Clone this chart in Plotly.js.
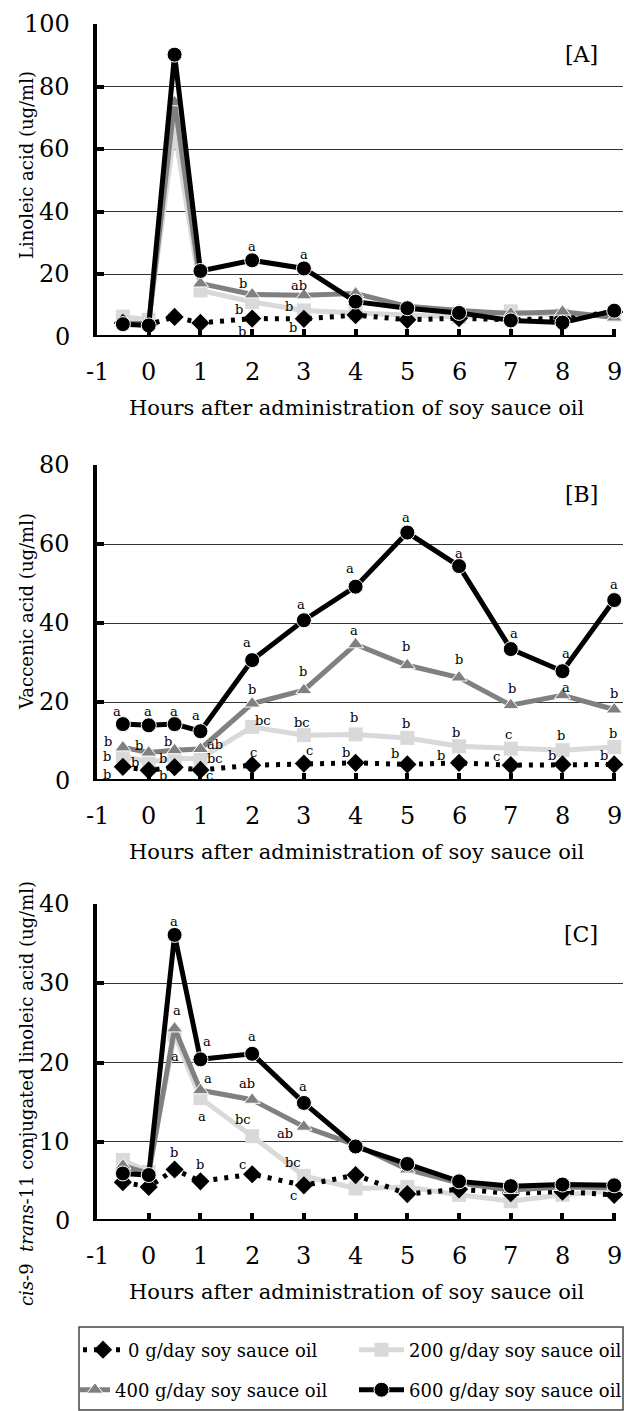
<!DOCTYPE html>
<html>
<head>
<meta charset="utf-8">
<script src="https://cdn.plot.ly/plotly-3.0.1.min.js"></script>
<style>html,body{margin:0;padding:0;background:#fff;}#chart{width:624px;height:1411px;}</style>
</head>
<body>
<div id="chart"></div>
<script>
// ---------- data ----------
const hours = [-0.5, 0, 0.5, 1, 2, 3, 4, 5, 6, 7, 8, 9];
const xTicks = [-1, 0, 1, 2, 3, 4, 5, 6, 7, 8, 9];

const seriesNames = ['0 g/day soy sauce oil', '200 g/day soy sauce oil', '400 g/day soy sauce oil', '600 g/day soy sauce oil'];

// Panel A: Linoleic acid
const A_0   = [4.5, 4.0, 6.4, 4.5, 5.9, 5.8, 7.0, 5.5, 6.0, 5.5, 6.0, 8.0];
const A_200 = [6.5, 5.5, 66, 14.9, 11.2, 8.5, 7.7, 6.9, 6.4, 8.2, 6.9, 7.0];
const A_400 = [4.5, 4.2, 75, 17.1, 13.6, 13.3, 13.9, 9.8, 8.5, 7.5, 8.1, 6.2];
const A_600 = [4.1, 3.7, 90.2, 21.1, 24.5, 21.9, 11.3, 9.2, 7.7, 5.3, 4.6, 8.4];

// Panel B: Vaccenic acid
const B_0   = [3.6, 2.7, 3.5, 2.8, 4.0, 4.4, 4.6, 4.2, 4.6, 4.0, 4.2, 4.2];
const B_200 = [6.3, 4.8, 5.7, 5.7, 13.7, 11.6, 11.8, 10.9, 8.8, 8.2, 7.8, 8.6];
const B_400 = [8.5, 7.2, 7.8, 8.1, 19.6, 23.0, 34.6, 29.3, 26.2, 19.2, 21.7, 18.1];
const B_600 = [14.4, 14.1, 14.4, 12.6, 30.6, 40.7, 49.2, 62.9, 54.4, 33.4, 27.8, 45.8];

// Panel C: cis-9 trans-11 CLA
const C_0   = [4.9, 4.3, 6.5, 5.0, 5.9, 4.5, 5.8, 3.4, 4.0, 3.5, 3.7, 3.3];
const C_200 = [7.7, 6.2, 23.5, 15.5, 10.7, 5.7, 4.1, 4.3, 3.3, 2.5, 3.3, 3.8];
const C_400 = [7.0, 6.0, 24.3, 16.5, 15.3, 11.9, 9.6, 6.5, 4.8, 3.9, 4.3, 4.2];
const C_600 = [6.0, 5.8, 36.1, 20.4, 21.1, 14.9, 9.4, 7.2, 5.0, 4.4, 4.6, 4.5];

const panelTitles = ['Linoleic acid (ug/ml)', 'Vaccenic acid (ug/ml)', '<i>cis</i>-9  <i>trans</i>-11 conjugated linoleic acid (ug/ml)'];
const panelTags = ['[A]', '[B]', '[C]'];
const yMax = [100, 80, 40];
const yStep = [20, 20, 10];
const xTitle = 'Hours after administration of soy sauce oil';

// significance letters: [hour, value, letter]
const lettersA = [[2, 29, 'a'], [3, 26.5, 'a'], [1.82, 17, 'b'], [2.9, 16.6, 'ab'], [1.75, 8.9, 'b'], [2.72, 9.6, 'b'], [1.8, 1.9, 'b'], [2.78, 3.0, 'b']];
const lettersB = [
  [-0.62, 17.7, 'a'], [-0.02, 17.7, 'a'], [0.49, 17.5, 'a'], [0.92, 16.7, 'a'],
  [1.9, 35.0, 'a'], [2.94, 44.8, 'a'], [3.9, 53.8, 'a'], [4.97, 66.7, 'a'], [6.0, 57.6, 'a'], [7.07, 37.3, 'a'], [8.07, 32.4, 'a'], [9.0, 49.8, 'a'],
  [-0.78, 9.9, 'b'], [-0.18, 9.0, 'b'], [0.37, 9.9, 'b'], [1.28, 9.3, 'ab'],
  [1.99, 23.1, 'b'], [2.98, 27.6, 'b'], [3.97, 38.2, 'a'], [4.98, 34.0, 'b'], [6.0, 30.7, 'b'], [7.03, 23.4, 'b'], [8.07, 23.6, 'a'], [9.0, 22.1, 'b'],
  [-0.8, 6.1, 'b'], [-0.26, 4.8, 'b'], [0.28, 5.6, 'b'], [1.28, 5.6, 'bc'],
  [-0.8, 1.7, 'b'], [-0.27, -0.5, 'b'], [0.28, 1.5, 'b'], [1.17, 1.4, 'c'],
  [2.02, 7.3, 'c'], [3.1, 7.8, 'c'], [3.81, 7.3, 'b'], [4.77, 6.9, 'b'], [5.66, 6.5, 'b'], [6.72, 6.1, 'c'], [7.8, 6.5, 'b'], [8.8, 6.5, 'b'],
  [2.21, 15.4, 'bc'], [2.96, 14.9, 'bc'], [3.97, 16.2, 'b'], [4.97, 14.5, 'b'], [5.95, 12.4, 'b'], [6.95, 11.8, 'c'], [7.97, 11.6, 'b'], [8.97, 12.0, 'b']
];
const lettersC = [
  [0.48, 37.8, 'a'], [1.13, 22.7, 'a'], [1.99, 23.3, 'a'], [2.98, 17.0, 'a'],
  [0.55, 26.5, 'a'], [1.15, 18.0, 'a'], [1.9, 17.3, 'ab'], [2.63, 11.1, 'ab'],
  [0.51, 20.8, 'a'], [1.03, 13.2, 'a'], [1.82, 12.8, 'bc'], [2.79, 7.4, 'bc'],
  [0.48, 8.6, 'b'], [0.99, 7.1, 'b'], [1.81, 7.1, 'c'], [2.79, 3.2, 'c']
];

// ---------- layout helpers ----------
const W = 624, H = 1411;
const FONT = 'DejaVu Serif';
const px = v => v / W;
const py = v => 1 - v / H;
const plotLeft = 97, plotRight = 623;
const panelPix = [[24, 337], [465, 781], [904, 1221]]; // top, bottom

const panelData = [[A_0, A_200, A_400, A_600], [B_0, B_200, B_400, B_600], [C_0, C_200, C_400, C_600]];
const panelLetters = [lettersA, lettersB, lettersC];

const styles = [
  {line: {color: '#000000', width: 5, dash: '4px,7px'}, marker: {symbol: 'diamond', size: 14, color: '#000000', line: {width: 0}}},
  {line: {color: '#d9d9d9', width: 5}, marker: {symbol: 'square', size: 14, color: '#d9d9d9', line: {width: 0}}},
  {line: {color: '#808080', width: 5}, marker: {symbol: 'triangle-up', size: 14, color: '#808080', line: {width: 1, color: '#ffffff'}}},
  {line: {color: '#000000', width: 5}, marker: {symbol: 'circle', size: 15, color: '#000000', line: {width: 1, color: '#ffffff'}}}
];
const drawOrder = [1, 0, 2, 3];
const legendIds = ['legend', 'legend2', 'legend3', 'legend4'];

const traces = [];
const layout = {
  width: W, height: H,
  margin: {l: 0, r: 0, t: 0, b: 0, autoexpand: false},
  paper_bgcolor: '#ffffff', plot_bgcolor: '#ffffff',
  font: {family: FONT, color: '#000000', size: 18},
  showlegend: true,
  annotations: [], shapes: []
};

for (let p = 0; p < 3; p++) {
  const sfx = p === 0 ? '' : String(p + 1);
  const xa = 'x' + sfx, ya = 'y' + sfx;
  for (const s of drawOrder) {
    traces.push({
      type: 'scatter', mode: 'lines+markers',
      x: hours, y: panelData[p][s],
      xaxis: xa, yaxis: ya,
      name: seriesNames[s],
      line: styles[s].line, marker: styles[s].marker,
      cliponaxis: false,
      showlegend: p === 2,
      legend: legendIds[s],
      hoverinfo: 'skip'
    });
  }
  const [top, bot] = panelPix[p];
  layout['xaxis' + sfx] = {
    domain: [px(plotLeft), px(plotRight)],
    anchor: ya, range: [-1, 9.17],
    tickmode: 'array', tickvals: xTicks,
    ticks: 'inside', ticklen: 8, tickwidth: 4, tickcolor: '#000',
    showticklabels: false,
    showline: false, showgrid: false, zeroline: false,
    fixedrange: true
  };
  const yt = [];
  for (let v = 0; v <= yMax[p]; v += yStep[p]) yt.push(v);
  layout['yaxis' + sfx] = {
    domain: [py(bot), py(top)],
    anchor: xa, range: [0, yMax[p]],
    tickmode: 'array', tickvals: yt,
    ticks: 'inside', ticklen: 7, tickwidth: 4, tickcolor: '#000',
    showticklabels: false,
    showline: true, linewidth: 4, linecolor: '#000',
    showgrid: true, gridcolor: '#333333', gridwidth: 1,
    zeroline: false,
    fixedrange: true
  };
  layout.shapes.push({type: 'line', xref: xa, yref: ya, x0: -1, x1: 9, y0: 0, y1: 0, line: {color: '#000', width: 4}});
  // x tick labels
  for (const t of xTicks) {
    layout.annotations.push({
      text: String(t), xref: xa, yref: 'paper', x: t, y: py(bot + 35),
      showarrow: false, xanchor: 'center', yanchor: 'middle', borderpad: 0,
      font: {family: FONT, size: 24, color: '#000'}
    });
  }
  // y tick labels
  for (const v of yt) {
    layout.annotations.push({
      text: String(v), xref: 'paper', yref: ya, x: px(71), y: v,
      showarrow: false, xanchor: 'right', yanchor: 'middle', borderpad: 0,
      font: {family: FONT, size: 24, color: '#000'}
    });
  }
  const ytCenter = [165, 612, 1094][p];
  layout.annotations.push({
    text: panelTitles[p], xref: 'paper', yref: 'paper', x: px(26), y: py(ytCenter),
    textangle: -90, showarrow: false, xanchor: 'center', yanchor: 'middle',
    font: {family: FONT, size: 18, color: '#000'}
  });
  layout.annotations.push({
    text: xTitle, xref: 'paper', yref: 'paper', x: px(357), y: py(bot + 71),
    showarrow: false, xanchor: 'center', yanchor: 'middle',
    font: {family: FONT, size: 21, color: '#000'}
  });
  layout.annotations.push({
    text: panelTags[p], xref: 'paper', yref: 'paper', x: px(581), y: py(top + 30),
    showarrow: false, xanchor: 'center', yanchor: 'middle',
    font: {family: FONT, size: 22, color: '#000'}
  });
  for (const [hx, hv, t] of panelLetters[p]) {
    layout.annotations.push({
      text: t, xref: xa, yref: ya, x: hx, y: hv, showarrow: false,
      xanchor: 'center', yanchor: 'middle', borderpad: 0,
      font: {family: FONT, size: 13, color: '#000'}
    });
  }
}

// legend box
layout.shapes.push({type: 'rect', xref: 'paper', yref: 'paper', x0: px(79), x1: px(623), y0: py(1410), y1: py(1327), line: {color: '#444', width: 1.5}, fillcolor: 'rgba(0,0,0,0)'});

const legendBase = {
  xref: 'paper', yref: 'paper', xanchor: 'left', yanchor: 'middle',
  orientation: 'v',
  font: {family: FONT, size: 18, color: '#000'},
  bgcolor: 'rgba(0,0,0,0)', borderwidth: 0, itemclick: false, itemdoubleclick: false
};
// [left px, centre y px, symbol width]
const legendPos = [[78, 1350, 40], [354, 1350, 45], [75, 1390, 30], [354, 1390, 45]];
legendIds.forEach((id, i) => {
  layout[id] = Object.assign({}, legendBase, {x: px(legendPos[i][0]), y: py(legendPos[i][1]), itemwidth: legendPos[i][2]});
});

Plotly.newPlot('chart', traces, layout, {staticPlot: true, displayModeBar: false});
</script>
</body>
</html>
